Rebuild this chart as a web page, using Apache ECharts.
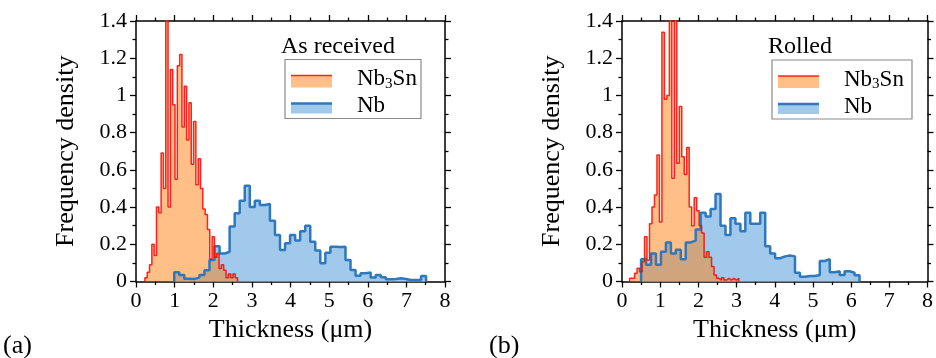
<!DOCTYPE html>
<html><head><meta charset="utf-8">
<script src="https://cdn.jsdelivr.net/npm/echarts@6/dist/echarts.min.js"></script>
<style>html,body{margin:0;padding:0;background:#fff}#c{width:936px;height:358px}</style>
</head><body><div id="c"></div>
<script>
// ---- data (bin start, bin width, bin heights) ----
const nbA_start = 0.99, nbA_width = 0.1304;
const nbA = [0.05,0.035,0.015,0.013,0.022,0.035,0.06,0.115,0.19,0.15,0.16,0.295,0.367,0.434,0.515,0.40,0.434,0.411,0.416,0.327,0.25,0.169,0.205,0.25,0.22,0.27,0.30,0.214,0.166,0.098,0.155,0.187,0.185,0.187,0.116,0.062,0.031,0.044,0.049,0.021,0.035,0.023,0.012,0.013,0.017,0.013,0.008,0.008,0.008,0.03];
const snA_start = 0.23, snA_width = 0.06;
const snA = [0.02,0.05,0.09,0.20,0.14,0.40,0.37,0.69,0.50,1.42,0.40,1.14,0.95,0.55,1.16,1.22,0.83,1.05,0.76,0.96,0.63,0.86,0.52,0.66,0.50,0.39,0.36,0.28,0.12,0.24,0.13,0.15,0.07,0.09,0.06,0.02,0.04,0.02,0.04,0.02];
const nbB_start = 0.5, nbB_width = 0.13;
const nbB = [0.12,0.09,0.15,0.09,0.16,0.21,0.15,0.17,0.12,0.21,0.22,0.28,0.37,0.35,0.39,0.47,0.30,0.25,0.34,0.31,0.27,0.37,0.31,0.31,0.37,0.19,0.15,0.125,0.135,0.14,0.135,0.047,0.026,0.03,0.03,0.035,0.11,0.12,0.05,0.055,0.035,0.055,0.047,0.033];
const snB_start = 0.2, snB_width = 0.065;
const snB = [0.017,0.017,0.044,0.071,0.053,0.106,0.24,0.116,0.31,0.40,0.465,0.68,0.32,1.34,0.98,1.0,1.45,0.555,1.45,0.635,0.94,0.67,0.575,0.72,0.40,0.30,0.45,0.38,0.30,0.26,0.13,0.16,0.13,0.08,0.035,0.017,0.008,0.02,0.008,0.017,0.008,0.017,0.008,0.017];
const xTicks = [0,1,2,3,4,5,6,7,8];
const yTicks = [0,0.2,0.4,0.6,0.8,1,1.2,1.4];
const panelTitles = ['As received','Rolled'];
const panelTags = ['(a)','(b)'];

function stepPoints(start, width, vals){
  const pts=[[start,0]];
  vals.forEach((v,i)=>{const x0=+(start+i*width).toFixed(5);const x1=+(start+(i+1)*width).toFixed(5);pts.push([x0,v],[x1,v]);});
  pts.push([+(start+vals.length*width).toFixed(5),0]);
  return pts;
}
const FONT='"Liberation Serif", "Times New Roman", "DejaVu Serif", serif';
const NB_LINE='#2f78bd', NB_FILL='#a0c9ec', SN_LINE='rgba(255,0,0,0.85)', SN_FILL='rgba(255,127,14,0.5)';

function xAx(g,pos,labels,name){
  return {type:'value',gridIndex:g,position:pos,min:xTicks[0],max:xTicks[xTicks.length-1],interval:1,
    axisLine:{show:true,onZero:false,lineStyle:{color:'#000',width:1.5}},
    axisTick:{show:true,length:6,lineStyle:{color:'#000',width:1.3}},
    minorTick:{show:true,splitNumber:2,length:3.5,lineStyle:{color:'#000',width:1.3}},
    splitLine:{show:false},
    axisLabel:{show:labels,fontFamily:FONT,fontSize:22,color:'#000',margin:9},
    name:name||'',nameLocation:'middle',nameGap:33,nameTextStyle:{fontFamily:FONT,fontSize:26,color:'#000'}};
}
function yAx(g,pos,labels,name){
  return {type:'value',gridIndex:g,position:pos,min:yTicks[0],max:yTicks[yTicks.length-1],interval:0.2,
    axisLine:{show:true,onZero:false,lineStyle:{color:'#000',width:1.5}},
    axisTick:{show:true,length:6,lineStyle:{color:'#000',width:1.3}},
    minorTick:{show:true,splitNumber:2,length:3.5,lineStyle:{color:'#000',width:1.3}},
    splitLine:{show:false},
    axisLabel:{show:labels,fontFamily:FONT,fontSize:22,color:'#000',margin:9},
    name:name||'',nameLocation:'middle',nameGap:57,nameTextStyle:{fontFamily:FONT,fontSize:26,color:'#000'}};
}
function histSeries(xi,yi,pts,line,fill,w){
  return {type:'line',xAxisIndex:xi,yAxisIndex:yi,data:pts,showSymbol:false,symbol:'none',
    lineStyle:{color:line,width:w},areaStyle:{color:fill,opacity:1},itemStyle:{color:line},
    animation:false,silent:true,clip:true};
}
function legend(x0,y0,w,title){
  const els=[];
  els.push({type:'text',left:x0-4,top:y0-25,style:{text:title,font:'24px '+FONT,fill:'#000'}});
  els.push({type:'rect',shape:{x:x0,y:y0,width:w,height:59},style:{fill:'#fff',stroke:'#8a8a8a',lineWidth:1.2}});
  els.push({type:'rect',shape:{x:x0+6,y:y0+16,width:41,height:12},style:{fill:SN_FILL}});
  els.push({type:'line',shape:{x1:x0+6,y1:y0+16,x2:x0+47,y2:y0+16},style:{stroke:SN_LINE,lineWidth:1.5}});
  els.push({type:'rect',shape:{x:x0+6,y:y0+44,width:41,height:10},style:{fill:NB_FILL}});
  els.push({type:'line',shape:{x1:x0+6,y1:y0+44,x2:x0+47,y2:y0+44},style:{stroke:NB_LINE,lineWidth:2.5}});
  els.push({type:'text',left:x0+72,top:y0+8,style:{text:'Nb{s|3}Sn',font:'23px '+FONT,fill:'#000',rich:{s:{fontSize:15,fontFamily:FONT,verticalAlign:'bottom',padding:[10,0,0,0]}}}});
  els.push({type:'text',left:x0+72,top:y0+35,style:{text:'Nb',font:'23px '+FONT,fill:'#000'}});
  return els;
}
const chart=echarts.init(document.getElementById('c'),null,{renderer:'canvas'});
chart.setOption({
  animation:false,backgroundColor:'#fff',
  grid:[{left:136,top:21,width:309,height:260.5},{left:622,top:21,width:307.5,height:260.5}],
  xAxis:[xAx(0,'bottom',true,'Thickness (μm)'),xAx(0,'top',false),xAx(1,'bottom',true,'Thickness (μm)'),xAx(1,'top',false)],
  yAxis:[yAx(0,'left',true,'Frequency density'),yAx(0,'right',false),yAx(1,'left',true,'Frequency density'),yAx(1,'right',false)],
  series:[
    histSeries(0,0,stepPoints(nbA_start,nbA_width,nbA),NB_LINE,NB_FILL,2.5),
    histSeries(0,0,stepPoints(snA_start,snA_width,snA),SN_LINE,SN_FILL,1.5),
    histSeries(2,2,stepPoints(nbB_start,nbB_width,nbB),NB_LINE,NB_FILL,2.5),
    histSeries(2,2,stepPoints(snB_start,snB_width,snB),SN_LINE,SN_FILL,1.5)
  ],
  graphic:[].concat(
    legend(285,59.5,136,panelTitles[0]),
    legend(772,60,140,panelTitles[1]),
    [{type:'text',left:3,top:333,style:{text:panelTags[0],font:'26px '+FONT,fill:'#000'}},
     {type:'text',left:489,top:333,style:{text:panelTags[1],font:'26px '+FONT,fill:'#000'}}]
  )
});
</script></body></html>
